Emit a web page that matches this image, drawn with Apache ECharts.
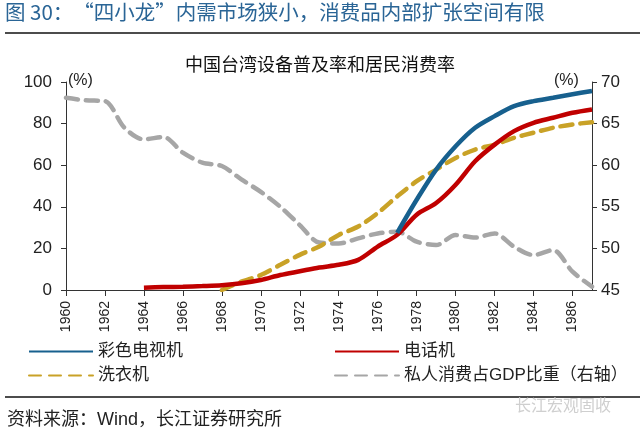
<!DOCTYPE html>
<html>
<head>
<meta charset="utf-8">
<script src="https://cdn.jsdelivr.net/npm/echarts@6/dist/echarts.min.js"></script>
<style>html,body{margin:0;padding:0;background:#fff;}#c{width:640px;height:434px;}</style>
</head>
<body>
<div id="c"></div>
<script>
var years = ['1960','1961','1962','1963','1964','1965','1966','1967','1968','1969','1970','1971','1972','1973','1974','1975','1976','1977','1978','1979','1980','1981','1982','1983','1984','1985','1986','1987'];
var colorTV = [null,null,null,null,null,null,null,null,null,null,null,null,null,null,null,null,null,27.5,43.4,57.9,69.1,78.0,83.6,88.4,90.8,92.4,94.1,95.7];
var phone = [null,null,null,null,1.1,1.4,1.6,1.9,2.3,3.2,4.8,7.2,9.0,10.8,12.1,14.5,20.9,26.5,36.2,41.8,50.6,61.9,69.9,76.4,80.4,82.8,85.2,86.8];
var washer = [null,null,null,null,null,null,null,null,0.0,4.0,7.2,12.1,16.9,20.9,26.5,30.5,37.0,45.0,52.3,57.9,63.5,67.5,69.9,73.2,75.6,78.0,79.6,80.7];
var consumption = [68.1,67.8,67.7,64.5,63.1,63.4,61.5,60.3,59.9,58.3,56.8,55.0,52.8,50.7,50.6,51.2,51.8,52.0,50.8,50.4,51.6,51.3,51.8,50.2,49.2,49.8,47.2,45.4];
var names = ['彩色电视机','电话机','洗衣机','私人消费占GDP比重（右轴）'];
var headerText = '图 30：“四小龙”内需市场狭小，消费品内部扩张空间有限';
var chartTitle = '中国台湾设备普及率和居民消费率';
var sourceText = '资料来源：Wind，长江证券研究所';

var FONT = '"Liberation Sans", "Noto Sans CJK SC", sans-serif';
var CJK = '"Noto Sans CJK SC", "Liberation Sans", sans-serif';
var chart = echarts.init(document.getElementById('c'));
function legendAt(name, left, top) {
  return {data: [name], left: left, top: top, itemWidth: 64, itemHeight: 14, itemGap: 0,
    itemStyle: {opacity: 0},
    textStyle: {fontSize: 17, color: '#222', fontFamily: FONT}, padding: 0, selectedMode: false};
}
chart.setOption({
  animation: false,
  textStyle: {fontFamily: FONT},
  title: {text: chartTitle, left: 'center', top: 52, textStyle: {fontSize: 18, fontWeight: 'normal', color: '#111', fontFamily: FONT}},
  grid: {left: 66, right: 48, top: 82, bottom: 144},
  legend: [
    legendAt(names[0], 28, 343),
    legendAt(names[1], 334, 343),
    legendAt(names[2], 28, 367),
    legendAt(names[3], 334, 367)
  ],
  xAxis: {
    type: 'category', data: years, boundaryGap: false,
    axisLine: {lineStyle: {color: '#333', width: 1}},
    axisTick: {interval: 1, length: 6, lineStyle: {color: '#333'}},
    axisLabel: {interval: 1, rotate: 90, fontSize: 14, color: '#222', margin: 11, fontFamily: FONT}
  },
  yAxis: [
    {type: 'value', min: 0, max: 100, interval: 20, splitLine: {show: false},
     axisLine: {show: true, lineStyle: {color: '#333'}}, axisTick: {show: true, length: 5, lineStyle: {color: '#333'}},
     axisLabel: {fontSize: 17, color: '#222', margin: 14, fontFamily: FONT}},
    {type: 'value', min: 45, max: 70, interval: 5, splitLine: {show: false}, position: 'right',
     axisLine: {show: true, lineStyle: {color: '#333'}}, axisTick: {show: true, length: 5, lineStyle: {color: '#333'}},
     axisLabel: {fontSize: 17, color: '#222', margin: 9, fontFamily: FONT}}
  ],
  series: [
    {name: names[0], type: 'line', data: colorTV, symbol: 'none', smooth: 0.3, color: '#17608E', lineStyle: {width: 4.5, color: '#17608E'}, z: 4},
    {name: names[1], type: 'line', data: phone, symbol: 'none', smooth: 0.3, color: '#C00000', lineStyle: {width: 4.5, color: '#C00000'}, z: 3},
    {name: names[2], type: 'line', data: washer, symbol: 'none', smooth: 0.3, color: '#C9A227', lineStyle: {width: 4.5, color: '#C9A227', type: [12, 8], cap: 'round'}, z: 2},
    {name: names[3], type: 'line', yAxisIndex: 1, data: consumption, symbol: 'none', smooth: 0.3, color: '#A6A6A6', lineStyle: {width: 4.5, color: '#A6A6A6', type: [12, 8], cap: 'round'}, z: 1}
  ],
  graphic: [
    {type: 'text', left: 5, top: 2, style: {text: headerText, fontSize: 20.5, fill: '#2A6596', fontFamily: CJK}},
    {type: 'line', shape: {x1: 5, y1: 33, x2: 640, y2: 33}, style: {stroke: '#111', lineWidth: 1.5}},
    {type: 'text', left: 68, top: 73, style: {text: '(%)', fontSize: 16, fill: '#222', fontFamily: FONT}},
    {type: 'text', left: 554, top: 73, style: {text: '(%)', fontSize: 16, fill: '#222', fontFamily: FONT}},
    {type: 'line', shape: {x1: 5, y1: 397, x2: 640, y2: 397}, style: {stroke: '#111', lineWidth: 1.5}},
    {type: 'text', left: 515, top: 397, style: {text: '长江宏观固收', fontSize: 16, fill: '#cfcfcf', fontFamily: CJK}},
    {type: 'text', left: 7, top: 411, style: {text: sourceText, fontSize: 18, fill: '#222', fontFamily: FONT}}
  ]
});
</script>
</body>
</html>
